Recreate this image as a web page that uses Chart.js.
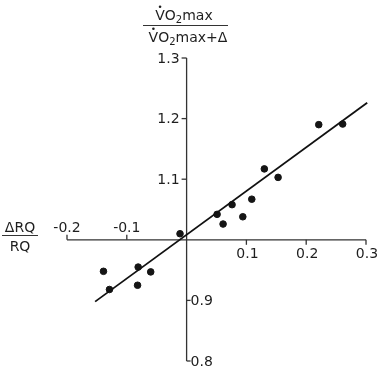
<!DOCTYPE html>
<html><head><meta charset="utf-8">
<script src="https://cdn.jsdelivr.net/npm/chart.js@4"></script>
<style>html,body{margin:0;padding:0;background:#fff}#wrap{width:378px;height:369px;position:relative}</style>
</head><body><div id="wrap"><canvas id="c" width="378" height="369"></canvas></div>
<script>
// data: x = ΔRQ/RQ, y = VO2max/(VO2max+Δ)
const ratioRQ  = [-0.139, -0.129, -0.081, -0.082, -0.060, -0.011, 0.051, 0.061, 0.076, 0.094, 0.109, 0.130, 0.153, 0.221, 0.261];
const ratioVO2 = [ 0.948,  0.918,  0.955,  0.925,  0.947,  1.010, 1.042, 1.026, 1.058, 1.038, 1.067, 1.117, 1.103, 1.190, 1.191];
const fitX = [-0.153, 0.302];
const fitY = [0.898, 1.226];
const xTicks = [-0.2, -0.1, 0.1, 0.2, 0.3];
const xTickLabels = ['-0.2', '-0.1', '0.1', '0.2', '0.3'];
const yTicks = [1.3, 1.2, 1.1, 0.9, 0.8];
const yTickLabels = ['1.3', '1.2', '1.1', '0.9', '0.8'];

const INK = '#1e1e1e';
const FONT = '"DejaVu Sans", sans-serif';

function drawRich(ctx, segs, cx, baseline) {
  let w = 0;
  segs.forEach(s => { ctx.font = s.size + 'px ' + FONT; s.w = ctx.measureText(s.t).width; w += s.w; });
  let x = cx - w / 2;
  ctx.textAlign = 'left'; ctx.textBaseline = 'alphabetic';
  segs.forEach(s => {
    ctx.font = s.size + 'px ' + FONT;
    ctx.fillText(s.t, x, baseline + (s.dy || 0));
    if (s.dot) { ctx.beginPath(); ctx.arc(x + s.w / 2, baseline - s.size * 0.95, 1.3, 0, Math.PI * 2); ctx.fill(); }
    x += s.w;
  });
  return w;
}

const axesPlugin = {
  id: 'crossAxes',
  beforeDatasetsDraw(chart) {
    const ctx = chart.ctx, xs = chart.scales.x, ys = chart.scales.y;
    const x0 = xs.getPixelForValue(0), y0 = ys.getPixelForValue(1.0);
    ctx.save();
    ctx.strokeStyle = '#333'; ctx.lineWidth = 1.3;
    ctx.beginPath();
    ctx.moveTo(xs.getPixelForValue(-0.2), y0); ctx.lineTo(xs.getPixelForValue(0.3), y0);
    ctx.moveTo(x0, ys.getPixelForValue(1.3)); ctx.lineTo(x0, ys.getPixelForValue(0.8));
    ctx.stroke();
    ctx.fillStyle = INK;
    ctx.font = '14px ' + FONT;
    xTicks.forEach((v, i) => {
      const px = xs.getPixelForValue(v);
      ctx.beginPath();
      if (v < 0) { ctx.moveTo(px, y0); ctx.lineTo(px, y0 - 5); }
      else { ctx.moveTo(px, y0); ctx.lineTo(px, y0 + 5); }
      ctx.stroke();
      ctx.textAlign = 'center';
      if (v < 0) { ctx.textBaseline = 'alphabetic'; ctx.fillText(xTickLabels[i], px, y0 - 8); }
      else { ctx.textBaseline = 'alphabetic'; ctx.fillText(xTickLabels[i], px + 1, y0 + 18); }
    });
    yTicks.forEach((v, i) => {
      const py = ys.getPixelForValue(v);
      ctx.beginPath();
      if (v > 1) { ctx.moveTo(x0, py); ctx.lineTo(x0 - 5, py); }
      else { ctx.moveTo(x0, py); ctx.lineTo(x0 + 4, py); }
      ctx.stroke();
      ctx.textBaseline = 'middle';
      if (v > 1) { ctx.textAlign = 'right'; ctx.fillText(yTickLabels[i], x0 - 7, py + 1); }
      else { ctx.textAlign = 'left'; ctx.fillText(yTickLabels[i], x0 + 4, py + 1); }
    });
    // y-axis title (fraction)
    ctx.lineWidth = 1.2;
    drawRich(ctx, [{t: 'V', size: 14, dot: true}, {t: 'O', size: 14}, {t: '2', size: 10, dy: 3}, {t: 'max', size: 14}], 184, 20);
    ctx.beginPath(); ctx.moveTo(143, 25.5); ctx.lineTo(228, 25.5); ctx.stroke();
    drawRich(ctx, [{t: 'V', size: 14, dot: true}, {t: 'O', size: 14}, {t: '2', size: 10, dy: 3}, {t: 'max+Δ', size: 14}], 188, 42);
    // x-axis title (fraction)
    drawRich(ctx, [{t: 'ΔRQ', size: 14}], 20, 232);
    ctx.beginPath(); ctx.moveTo(2, 235.5); ctx.lineTo(38, 235.5); ctx.stroke();
    drawRich(ctx, [{t: 'RQ', size: 14}], 20, 251);
    ctx.restore();
  }
};

const pts = ratioRQ.map((x, i) => ({x: x, y: ratioVO2[i]}));
const fit = fitX.map((x, i) => ({x: x, y: fitY[i]}));

new Chart(document.getElementById('c'), {
  type: 'scatter',
  data: {
    datasets: [
      {data: fit, type: 'line', showLine: true, borderColor: '#111', borderWidth: 1.8, pointRadius: 0, fill: false, clip: false},
      {data: pts, backgroundColor: '#151515', borderColor: '#151515', pointRadius: 3.3, pointHoverRadius: 3.3, clip: false}
    ]
  },
  options: {
    responsive: false, animation: false, devicePixelRatio: 1,
    layout: {padding: {left: 67, right: 12, top: 58, bottom: 8}},
    plugins: {legend: {display: false}, tooltip: {enabled: false}},
    scales: {
      x: {type: 'linear', min: -0.2, max: 0.3, display: false},
      y: {type: 'linear', min: 0.8, max: 1.3, display: false}
    }
  },
  plugins: [axesPlugin]
});
</script></body></html>
